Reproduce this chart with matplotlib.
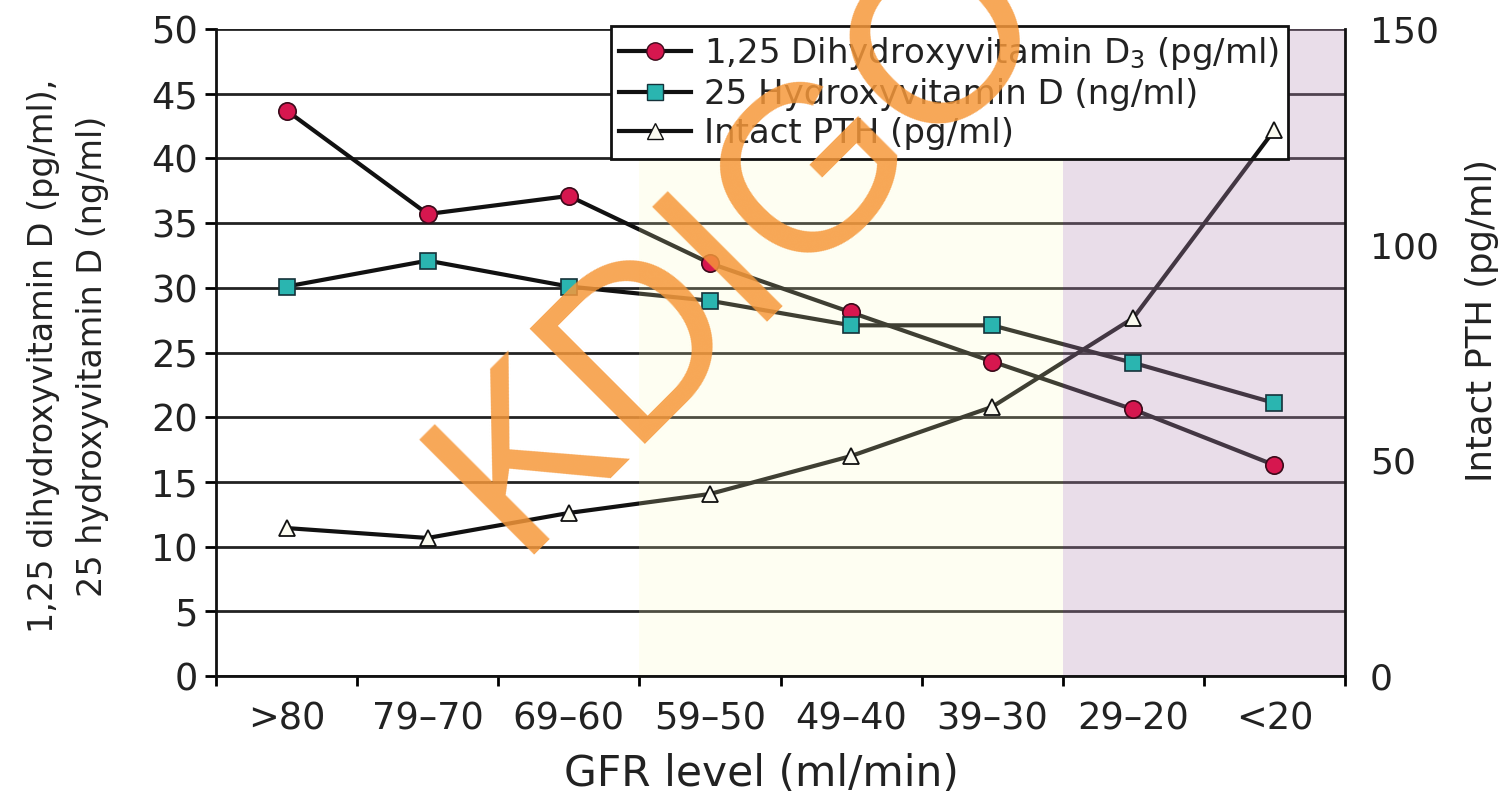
import numpy as np
import matplotlib.pyplot as plt
from matplotlib.lines import Line2D

plt.rcParams.update({
    'font.family': 'DejaVu Sans',
    'mathtext.fontset': 'dejavusans',
})

GFR = ['>80', '79–70', '69–60', '59–50', '49–40', '39–30', '29–20', '<20']
DIHYDROXY_D3 = [43.7, 35.7, 37.1, 31.9, 28.1, 24.3, 20.6, 16.3]   # pg/ml, left axis
HYDROXY_D = [30.1, 32.1, 30.1, 29.0, 27.1, 27.1, 24.2, 21.1]     # ng/ml, left axis
PTH = [34.3, 32.0, 37.8, 42.2, 51.0, 62.4, 83.0, 126.6]          # pg/ml, right axis

LINE_C = '#111111'
RED = '#d6174f'
TEAL = '#2ab5b0'
TXT = '#222222'

fig = plt.figure(figsize=(15.03, 7.95), dpi=100)
ax = fig.add_axes([216 / 1503, 1 - 676 / 795, (1345 - 216) / 1503, (676 - 29) / 795])
ax2 = ax.twinx()

x = np.arange(len(GFR))

# lines first, shading over them (tints them like the original), markers on top
ax.plot(x, DIHYDROXY_D3, color=LINE_C, lw=3, zorder=2, solid_joinstyle='round')
ax.plot(x, HYDROXY_D, color=LINE_C, lw=3, zorder=2, solid_joinstyle='round')
ax.plot(x, PTH, color=LINE_C, lw=3, zorder=2, solid_joinstyle='round',
        transform=ax2.transData)

ax.axvspan(2.5, 5.5, color='#fafabe', alpha=0.2, lw=0, zorder=2.5)
ax.axvspan(5.5, 7.5, color='#b990b9', alpha=0.3, lw=0, zorder=2.5)

handles = [
    Line2D([0], [0], color=LINE_C, lw=3, marker='o', ms=12.5, mfc=RED, mec='#3a0a1a'),
    Line2D([0], [0], color=LINE_C, lw=3, marker='s', ms=11.5, mfc=TEAL, mec='#15323a'),
    Line2D([0], [0], color=LINE_C, lw=3, marker='^', ms=12, mfc='#fbfbf0', mec='#111111'),
]
labels = ['1,25 Dihydroxyvitamin D$_3$ (pg/ml)',
          '25 Hydroxyvitamin D (ng/ml)',
          'Intact PTH (pg/ml)']
leg = ax.legend(handles, labels, loc='upper right', bbox_to_anchor=(0.9495, 1.004),
                borderaxespad=0, fontsize=24.5, frameon=True, fancybox=False,
                edgecolor='#111111', framealpha=1, handlelength=2.1,
                handletextpad=0.4, labelspacing=0.18, borderpad=0.25)
leg.get_frame().set_linewidth(2)
leg.set_zorder(2.6)
for t in leg.get_texts():
    t.set_color(TXT)

# the PTH line runs over the legend box in the original
over = ax.plot(x, PTH, color=LINE_C, lw=3, zorder=2.7, solid_joinstyle='round',
               transform=ax2.transData)[0]
over.set_clip_path(leg.legendPatch)

ax.plot(x, DIHYDROXY_D3, ls='none', marker='o', ms=12.5, mfc=RED, mec='#3a0a1a',
        mew=1.2, zorder=3)
ax.plot(x, HYDROXY_D, ls='none', marker='s', ms=11.5, mfc=TEAL, mec='#15323a',
        mew=1.2, zorder=3)
ax.plot(x, PTH, ls='none', marker='^', ms=12, mfc='#fbfbf0', mec='#111111',
        mew=1.3, zorder=3, transform=ax2.transData)

ax.set_xlim(-0.5, 7.5)
ax.set_ylim(0, 50)
ax2.set_ylim(0, 150)

ax.set_yticks(np.arange(0, 51, 5))
ax.yaxis.grid(True, color='#222222', lw=2)
ax.set_axisbelow(True)
ax.tick_params(axis='y', labelsize=26.5, length=8, width=2, pad=5, direction='out',
               labelcolor=TXT)

ax.set_xticks(x)
ax.set_xticklabels(GFR)
ax.set_xticks(np.arange(-0.5, 8, 1), minor=True)
ax.tick_params(axis='x', which='major', length=0, labelsize=26.5, pad=18, labelcolor=TXT)
ax.tick_params(axis='x', which='minor', length=7, width=2, direction='out')

ax2.set_yticks([0, 50, 100, 150])
ax2.tick_params(axis='y', labelsize=26, length=0, pad=18, labelcolor=TXT)

for s in ['top', 'right']:
    ax.spines[s].set_visible(False)
for s in ['top', 'left', 'bottom']:
    ax2.spines[s].set_visible(False)
for sp in [ax.spines['left'], ax.spines['bottom'], ax2.spines['right']]:
    sp.set_linewidth(2)
    sp.set_color('#111111')

fig.text(68 / 1503, 1 - 356 / 795,
         '1,25 dihydroxyvitamin D (pg/ml),\n25 hydroxyvitamin D (ng/ml)',
         rotation=90, ha='center', va='center', fontsize=24, linespacing=1.6,
         color=TXT)
fig.text(1482 / 1503, 1 - 320 / 795, 'Intact PTH (pg/ml)', rotation=90,
         ha='center', va='center', fontsize=25.5, color=TXT)
fig.text(761 / 1503, 1 - 786 / 795, 'GFR level (ml/min)', ha='center',
         va='baseline', fontsize=30.5, color=TXT)

# watermark
fig.text(741 / 1503, 1 - 242 / 795, 'KDIGO', rotation=45, ha='center', va='center',
         fontsize=170, family='Liberation Sans', color='#f6983a', alpha=0.85,
         zorder=10)

fig.savefig('out.png', dpi=100)
